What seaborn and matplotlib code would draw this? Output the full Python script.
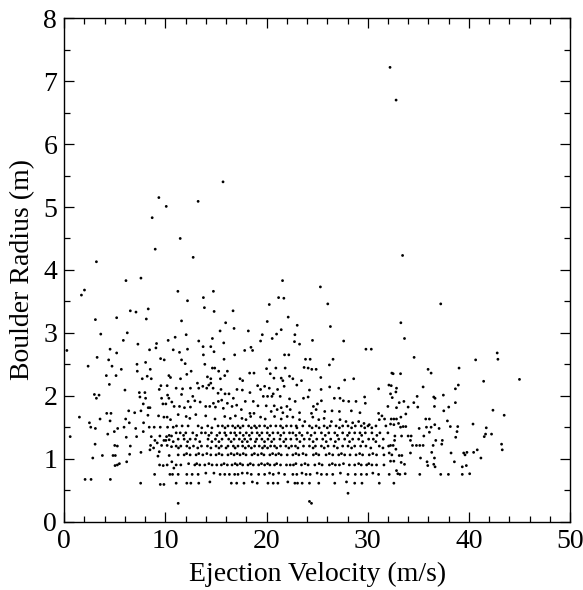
import numpy as np
import pandas as pd
import matplotlib
matplotlib.use("Agg")
import matplotlib.pyplot as plt
from matplotlib.ticker import MultipleLocator
import seaborn as sns

# isolated boulders (velocity m/s, radius m)
sparse_vel = [
    32.2, 32.8, 15.70, 9.36, 10.09, 13.24, 8.70, 37.21,
    11.47, 9.00, 3.19, 12.75, 33.44, 6.11, 7.59, 21.58, 1.71, 2.01, 11.24, 14.75,
    25.32, 12.19, 13.76, 21.19, 21.71, 20.27, 26.05, 6.54, 7.10, 8.31, 13.86, 14.82,
    16.69, 3.09, 5.19, 8.12, 11.60, 22.14, 15.96, 20.07, 23.03, 26.31, 6.24, 12.06,
    15.41, 18.20, 16.79, 21.45, 19.58, 20.99, 22.80, 3.62, 10.97, 14.65, 20.56,
    # left block
    5.85, 7.29, 9.13, 10.28, 0.27, 4.54, 5.19, 8.44, 9.07, 10.78, 3.26, 4.40, 7.20,
    8.05, 9.53, 9.89, 2.37, 4.73, 5.65, 7.23, 8.51, 4.17, 5.13, 7.72, 8.21, 8.61,
    10.35, 10.51, 4.47, 9.56, 10.18, 6.01, 2.99, 3.45, 3.19, 7.43, 7.98, 7.49, 8.05,
    9.40, 10.22, 10.35, 9.63, 8.31, 8.48, 7.82, 9.76, 10.05, 10.64, 10.87, 6.38,
    6.97, 7.59, 4.21, 4.63, 1.51, 8.28, 9.33, 9.86, 10.18, 10.51, 3.55, 4.54, 2.50,
    3.09, 2.63, 6.08, 6.44, 7.85, 8.41, 8.90, 9.50, 10.22, 10.78, 0.60, 4.31, 5.29,
    5.92, 4.96, 6.14, 7.07, 7.16, 7.82, 8.61, 9.46, 10.12, 10.38, 10.61, 8.97, 9.86,
    10.05, 10.38, 10.78, 3.06, 5.00, 5.26, 6.54, 8.54, 8.84, 9.20, 9.63, 10.18,
    10.61, 8.48, 9.40, 2.83, 3.78, 4.83, 5.06, 6.47, 7.59, 9.27, 10.38, 6.18, 5.03,
    5.26, 5.46, 9.43, 9.79, 10.18, 10.64, 10.84, 8.94, 10.45, 10.71, 2.07, 2.66,
    4.57, 7.56, 9.50, 9.86,
    # middle block, upper part
    13.30, 15.77, 19.41, 11.40, 12.19, 13.73, 14.49, 14.81, 17.84, 18.46, 18.62,
    21.78, 22.20, 11.60, 11.96, 13.76, 13.90, 15.80, 16.85, 20.30, 12.55, 12.12,
    14.65, 14.88, 15.27, 16.13, 18.33, 18.76, 20.00, 20.92, 21.84, 11.50, 14.16,
    14.49, 15.44, 15.87, 17.38, 17.64, 20.37, 20.73, 21.45, 22.27, 13.17, 13.70,
    14.29, 14.49, 19.81, 21.61, 11.07, 11.70, 12.48, 13.30, 14.09, 14.72, 15.50,
    16.29, 17.08, 17.61, 18.36, 19.12, 19.41, 20.27, 20.66, 21.09, 21.74, 11.60,
    12.71, 15.21, 15.90, 16.72, 19.68, 20.10, 20.53, 21.35, 12.25, 12.91, 13.44,
    14.75, 15.24, 15.57, 16.13, 16.59, 17.05, 17.90, 18.69, 19.15, 19.97, 20.76,
    21.45, 22.01, 11.40, 11.89, 12.48, 13.99, 14.39, 14.95, 15.73, 17.51, 18.36,
    18.76, 20.46, 21.05, 21.61, 11.27, 12.06, 12.42, 13.01, 13.99, 14.91, 15.87,
    16.42, 16.92, 17.57, 17.97, 18.43, 19.41, 19.87, 20.79, 21.45, 22.04, 11.27,
    # right-middle block, upper part
    22.76, 23.26, 24.54, 27.62, 29.82, 30.35, 23.85, 24.31, 26.57, 23.71, 24.11,
    24.47, 24.90, 26.21, 22.60, 23.45, 22.99, 25.36, 27.72, 28.61, 24.24, 25.39,
    26.24, 27.13, 31.07, 32.09, 22.27, 22.83, 23.65, 24.11, 24.63, 25.03, 25.42,
    26.70, 27.26, 27.59, 28.12, 28.84, 29.69, 29.76, 31.99, 22.34, 23.26, 24.44,
    24.90, 25.75, 26.47, 27.20, 28.38, 29.23, 31.07, 31.40, 22.60, 23.26, 23.78,
    24.57, 25.16, 25.69, 26.41, 27.26, 27.85, 28.51, 29.10, 29.63, 30.15, 31.14,
    31.66, 28.05, 24.24, 24.44,
    # right block
    33.27, 33.63, 34.58, 42.79, 42.86, 40.66, 35.96, 36.26, 39.02, 32.38, 32.51,
    33.24, 41.45, 44.99, 32.32, 32.84, 32.78, 32.25, 35.47, 32.42, 33.11, 33.57,
    33.99, 32.84, 34.55, 34.94, 34.88, 36.52, 36.65, 36.59, 37.47, 38.66, 38.95,
    38.66, 38.00, 37.51, 42.37, 43.48, 33.27, 32.32, 32.58, 32.84, 33.76, 32.25,
    32.58, 33.04, 33.24, 33.50, 33.76, 35.73, 36.09, 36.62, 35.80, 36.26, 37.05,
    35.08, 37.87, 38.16, 38.89, 38.82, 40.40, 41.71, 36.09, 32.68, 33.34, 33.99,
    34.29, 35.54, 38.69, 41.64, 42.23, 41.51, 34.22, 32.65, 36.72, 37.37, 37.31,
    32.25, 32.51, 32.78, 34.42, 34.81, 35.14, 35.47, 36.46, 43.22, 43.29, 40.82,
    32.12, 32.38, 33.11, 33.37, 34.22, 35.21, 36.32, 36.59, 38.23, 39.48, 39.61,
    39.80, 40.46, 41.18, 32.25, 32.58, 33.30, 33.63, 35.86, 35.93, 36.52, 36.65,
    38.56, 39.34, 39.74, 32.12, 32.84, 32.97, 33.17, 33.70, 35.14, 37.21, 37.97,
    39.34, 40.07, 32.58,
]
sparse_rad = [
    7.22, 6.70, 5.40, 5.15, 5.01, 5.09, 4.83, 3.46,
    4.50, 4.33, 4.13, 4.20, 4.23, 3.83, 3.87, 3.83, 3.60, 3.68, 3.66, 3.66,
    3.73, 3.51, 3.56, 3.56, 3.55, 3.45, 3.46, 3.35, 3.33, 3.38, 3.40, 3.34,
    3.35, 3.21, 3.24, 3.22, 3.19, 3.25, 3.16, 3.18, 3.12, 3.10, 3.00, 2.97,
    3.03, 3.03, 3.07, 3.05, 2.97, 2.98, 2.97, 2.98, 2.93, 2.91, 2.91,
    # left block
    2.88, 2.82, 2.83, 2.88, 2.72, 2.74, 2.68, 2.73, 2.76, 2.73, 2.61, 2.57, 2.50,
    2.53, 2.59, 2.57, 2.47, 2.47, 2.42, 2.39, 2.42, 2.32, 2.32, 2.27, 2.31, 2.27,
    2.32, 2.29, 2.18, 2.16, 2.16, 2.09, 2.02, 2.01, 1.96, 2.05, 2.05, 1.98, 1.96,
    2.10, 2.01, 1.96, 1.96, 1.81, 1.81, 1.87, 1.87, 1.87, 1.90, 1.83, 1.76,
    1.73, 1.76, 1.72, 1.72, 1.66, 1.69, 1.68, 1.66, 1.66, 1.62, 1.63, 1.60, 1.57,
    1.48, 1.50, 1.63, 1.57, 1.57, 1.50, 1.50, 1.50, 1.50, 1.50, 1.35, 1.39, 1.48,
    1.50, 1.43, 1.34, 1.48, 1.35, 1.43, 1.35, 1.36, 1.35, 1.37, 1.36, 1.29, 1.29,
    1.29, 1.30, 1.27, 1.23, 1.21, 1.20, 1.20, 1.21, 1.17, 1.25, 1.21, 1.21,
    1.19, 1.14, 1.11, 1.01, 1.05, 1.05, 1.05, 1.07, 1.10, 1.04, 1.05, 0.95, 0.89,
    0.90, 0.92, 0.90, 0.89, 0.90, 0.95, 0.85, 0.75, 0.75, 0.75, 0.67, 0.67,
    0.67, 0.61, 0.59, 0.59,
    # middle block, upper part
    2.87, 2.84, 2.87, 2.69, 2.74, 2.78, 2.78, 2.70, 2.72, 2.77, 2.72,
    2.65, 2.65, 2.57, 2.51, 2.65, 2.50, 2.58, 2.65, 2.57, 2.39, 2.34,
    2.44, 2.44, 2.39, 2.39, 2.36, 2.36, 2.43, 2.44, 2.44, 2.27, 2.30,
    2.27, 2.27, 2.32, 2.27, 2.24, 2.35, 2.28, 2.28, 2.31, 2.20, 2.15,
    2.17, 2.20, 2.15, 2.24, 2.12, 2.11, 2.12, 2.12, 2.12, 2.12, 2.10,
    2.03, 2.10, 2.09, 2.05, 2.16, 2.10, 2.12, 2.03, 2.10, 2.15, 2.02,
    1.99, 2.04, 2.03, 1.96, 1.99, 1.99, 1.99, 1.99, 1.91, 1.92, 1.90,
    1.88, 1.91, 1.93, 1.88, 1.83, 1.85, 1.91, 1.91, 1.84, 1.84, 1.84,
    1.81, 1.83, 1.83, 1.81, 1.82, 1.83, 1.83, 1.82, 1.80, 1.78, 1.72,
    1.72, 1.75, 1.78, 1.73, 1.70, 1.67, 1.64, 1.70, 1.68, 1.63, 1.67,
    1.64, 1.68, 1.64, 1.62, 1.67, 1.66, 1.63, 1.67, 1.63, 1.67, 0.29,
    # right-middle block, upper part
    2.86, 2.82, 2.88, 2.87, 2.74, 2.74, 2.58, 2.58, 2.58, 2.45, 2.44,
    2.42, 2.42, 2.49, 2.27, 2.24, 2.17, 2.29, 2.25, 2.27, 2.09, 2.10,
    2.14, 2.12, 2.11, 2.17, 1.95, 1.91, 1.96, 1.98, 1.83, 1.87, 1.92,
    1.96, 1.96, 1.92, 1.91, 1.91, 1.98, 1.88, 1.83, 1.78, 1.73, 1.72,
    1.78, 1.75, 1.76, 1.75, 1.76, 1.73, 1.72, 1.68, 1.66, 1.62, 1.59,
    1.66, 1.62, 1.64, 1.59, 1.62, 1.59, 1.57, 1.59, 1.56, 1.54, 1.62,
    1.63, 0.45, 0.32, 0.29,
    # right block
    3.16, 2.91, 2.61, 2.68, 2.58, 2.57, 2.42, 2.36, 2.44, 2.36, 2.35,
    2.35, 2.23, 2.26, 2.16, 2.12, 2.06, 2.03, 2.14, 1.97, 1.89, 1.91,
    1.82, 1.81, 1.89, 1.82, 1.99, 1.98, 1.96, 1.83, 2.01, 2.11, 2.17,
    1.89, 1.82, 1.76, 1.77, 1.69, 1.66, 1.63, 1.63, 1.63, 1.71, 1.55,
    1.54, 1.56, 1.50, 1.51, 1.51, 1.63, 1.63, 1.54, 1.50, 1.50, 1.48,
    1.48, 1.60, 1.51, 1.51, 1.43, 1.55, 1.49, 1.42, 1.36, 1.36, 1.36,
    1.36, 1.36, 1.34, 1.39, 1.39, 1.35, 1.29, 1.29, 1.29, 1.29, 1.23,
    1.21, 1.21, 1.15, 1.21, 1.21, 1.21, 1.21, 1.21, 1.23, 1.14, 1.14,
    1.09, 1.06, 1.05, 1.05, 1.09, 1.01, 1.10, 1.01, 1.09, 1.09, 1.06,
    1.10, 1.10, 1.01, 0.96, 0.96, 0.94, 0.91, 0.95, 0.89, 0.91, 0.87,
    0.95, 0.87, 0.89, 0.75, 0.81, 0.76, 0.75, 0.76, 0.75, 0.75, 0.75,
    0.75, 0.76, 0.61,
]

# dense core: the radii fall on a few discrete rows; velocities along each row
band_radius = [1.52, 1.41, 1.31, 1.20, 1.06, 0.90, 0.75, 0.61]
band_vel_mid = [
    [11.10, 11.66, 12.25, 13.24, 14.19, 15.21, 15.64, 16.19, 16.65, 17.18, 17.67,
     18.23, 18.82, 19.31, 19.81, 20.40, 20.92, 21.38, 21.97],
    [11.07, 11.47, 12.02, 12.71, 13.57, 13.96, 14.55, 15.37, 15.87, 16.46, 16.85,
     17.38, 18.00, 18.56, 19.08, 19.54, 20.07, 20.63, 21.12, 21.71, 22.27],
    [11.27, 11.86, 12.45, 12.98, 14.22, 14.95, 15.60, 16.26, 16.79, 17.31, 17.84,
     18.43, 19.02, 19.54, 20.14, 20.73, 21.32, 21.91],
    [11.07, 11.53, 12.12, 12.78, 13.57, 14.16, 15.01, 15.54, 16.19, 16.72, 17.18,
     17.64, 18.23, 18.82, 19.28, 19.81, 20.40, 20.79, 21.38, 21.91],
    [11.27, 11.86, 12.45, 13.04, 13.70, 14.49, 15.01, 15.60, 16.19, 16.79, 17.38,
     17.97, 18.56, 19.15, 19.74, 20.33, 20.92, 21.45, 22.04],
    [11.07, 11.53, 12.91, 13.40, 13.90, 14.62, 15.08, 15.54, 16.13, 16.59, 17.11,
     17.64, 18.17, 18.69, 19.22, 19.81, 20.33, 20.79, 21.38, 21.97],
    [11.27, 12.12, 12.65, 13.24, 15.41, 15.87, 16.33, 16.85, 17.18, 18.49, 19.22,
     19.81, 20.66, 21.78],
    [11.07, 12.12, 12.52, 13.30, 16.52, 17.05, 17.77, 19.08, 20.14, 20.66, 21.12],
]
band_vel_right = [
    [22.43, 22.93, 23.58, 24.24, 24.90, 25.69, 26.28, 26.87, 27.52, 28.05, 28.77,
     29.36, 30.02, 30.81, 31.79],
    [22.60, 23.26, 24.04, 24.77, 25.42, 26.15, 26.74, 27.52, 28.18, 28.71, 29.23,
     29.76, 30.41, 31.20, 31.99],
    [22.40, 22.99, 23.72, 24.24, 24.96, 25.55, 26.34, 27.13, 27.72, 28.51, 29.10,
     30.09, 30.55, 31.53],
    [22.47, 22.86, 23.65, 24.24, 24.83, 25.42, 26.08, 26.67, 27.52, 28.05, 28.71,
     29.30, 29.82, 31.14, 32.06],
    [22.60, 23.19, 23.91, 24.63, 25.16, 25.88, 26.54, 27.13, 27.72, 28.25, 28.84,
     29.49, 30.15, 30.87, 31.60],
    [22.34, 22.66, 23.45, 24.11, 24.77, 25.49, 26.21, 26.80, 27.20, 28.18, 28.71,
     29.36, 29.89, 30.41, 30.87, 31.60],
    [22.60, 22.99, 23.91, 24.31, 25.42, 25.95, 26.54, 28.05, 28.77, 29.36, 29.89,
     31.07],
    [22.80, 23.06, 23.52, 24.24, 25.16, 26.74, 28.71, 29.43, 31.14],
]
# second, slightly offset strand of each row (overlapping dots in the core)
strand_radius = [1.49, 1.37, 1.27, 1.17, 1.08, 0.92, 0.77, 0.63]
strand_vel = [
    [13.6, 14.6, 15.9, 16.9, 17.4, 18.5, 19.0, 20.1, 21.6, 23.0, 24.5, 25.2, 26.0,
     27.2, 28.4, 29.7, 30.4],
    [11.8, 13.1, 14.3, 15.1, 16.0, 17.0, 17.7, 18.3, 19.3, 20.3, 21.4, 22.9, 23.5,
     24.4, 25.8, 27.0, 28.0, 29.4, 30.9],
    [12.2, 13.4, 14.6, 15.3, 16.5, 17.6, 18.1, 18.9, 19.8, 20.5, 21.7, 23.3, 24.6,
     25.9, 26.8, 28.2, 29.5, 30.8],
    [11.3, 12.4, 13.2, 14.5, 15.3, 16.0, 16.9, 17.9, 18.5, 19.6, 20.1, 21.0, 22.2,
     23.1, 24.6, 25.7, 27.0, 28.4, 30.3, 31.5],
    [12.1, 13.3, 14.1, 15.3, 16.5, 17.1, 17.7, 18.8, 19.5, 20.6, 21.2, 22.9, 23.6,
     24.9, 26.2, 27.4, 29.2, 30.5],
    [12.3, 13.1, 14.3, 15.8, 16.9, 17.4, 18.4, 19.5, 20.1, 21.0, 22.9, 23.8, 25.2,
     26.5, 27.6, 29.1, 30.1],
    [14.0, 14.8, 17.6, 18.1, 20.3, 21.2, 23.5, 25.0, 27.3, 30.5],
    [14.4, 18.6, 22.1, 27.9],
]

vel = list(sparse_vel)
rad = list(sparse_rad)
for r, xs_mid, xs_right in zip(band_radius, band_vel_mid, band_vel_right):
    for v in xs_mid + xs_right:
        vel.append(v)
        rad.append(r)
for r, xs in zip(strand_radius, strand_vel):
    for v in xs:
        vel.append(v)
        rad.append(r)

df = pd.DataFrame({"vel": vel, "rad": rad})

sns.set_theme(style="ticks")
plt.rcParams["font.family"] = ["Liberation Serif", "DejaVu Serif"]

fig = plt.figure(figsize=(5.83, 5.90), dpi=100)
ax = fig.add_axes([0.110, 0.116, 0.868, 0.853])
sns.scatterplot(data=df, x="vel", y="rad", ax=ax, s=4, color="black",
                linewidth=0, edgecolor="none")

ax.set_xlim(0, 50)
ax.set_ylim(0, 8)
ax.xaxis.set_major_locator(MultipleLocator(10))
ax.xaxis.set_minor_locator(MultipleLocator(2))
ax.yaxis.set_major_locator(MultipleLocator(1))
ax.yaxis.set_minor_locator(MultipleLocator(0.5))
ax.tick_params(which="both", direction="in", top=True, right=True,
               colors="black", labelsize=20, width=0.9)
ax.tick_params(which="major", length=7, pad=5)
ax.tick_params(which="minor", length=4)
for sp in ax.spines.values():
    sp.set_color("black")
    sp.set_linewidth(1.0)

ax.set_xlabel("Ejection Velocity (m/s)", fontsize=20, color="black", labelpad=6)
ax.set_ylabel("Boulder Radius (m)", fontsize=20, color="black", labelpad=6)

fig.savefig("out.png", dpi=100, facecolor="white")
